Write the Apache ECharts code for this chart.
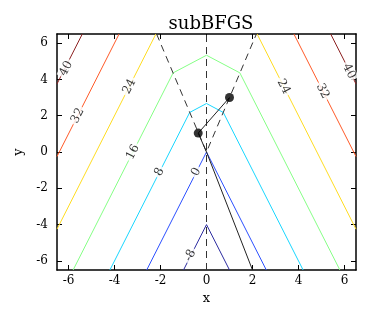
<!DOCTYPE html>
<html>
<head>
<meta charset="utf-8">
<script src="https://cdn.jsdelivr.net/npm/echarts@6/dist/echarts.min.js"></script>
<style>html,body{margin:0;padding:0;background:#fff}#c{width:374px;height:315px}</style>
</head>
<body>
<div id="c"></div>
<script>
// ---- data ----
const xTicks = [-6, -4, -2, 0, 2, 4, 6];
const yTicks = [-6, -4, -2, 0, 2, 4, 6];
const levels = [-8, 0, 8, 16, 24, 32, 40];
// contour branches (x, y) for each level
const contourM8 = [[[-1.0, -6.5], [0, -4.0], [1.0, -6.5]]];
const contour0  = [[[-2.6, -6.5], [0, 0], [2.6, -6.5]]];
const contour8  = [[[-4.2, -6.5], [-0.73, 2.18], [0, 2.67], [0.73, 2.18], [4.2, -6.5]]];
const contour16 = [[[-5.8, -6.5], [-1.45, 4.36], [0, 5.33], [1.45, 4.36], [5.8, -6.5]]];
const contour24 = [[[-6.5, -4.25], [-2.2, 6.5]], [[2.2, 6.5], [6.5, -4.25]]];
const contour32 = [[[-6.5, -0.25], [-3.8, 6.5]], [[3.8, 6.5], [6.5, -0.25]]];
const contour40 = [[[-6.5, 3.75], [-5.4, 6.5]], [[5.4, 6.5], [6.5, 3.75]]];
// kink lines (dashed)
const kinkV = [[-2.17, 6.5], [0, 0], [2.17, 6.5]];
const kinkAxis = [[0, -6.5], [0, 6.5]];
// optimizer path and iterates
const pathPts = [[1.0, 3.0], [-0.36, 1.04], [0, 0], [2.0, -6.5]];
const iterPts = [[1.0, 3.0], [-0.36, 1.04]];
// contour label anchors
const labelPts = [[-6.1, 4.6], [-5.6, 2.0], [-3.35, 3.6], [-3.2, 0], [-2.05, -1.1], [-0.45, -1.1], [-0.7, -5.7],
                  [3.35, 3.6], [5.05, 3.35], [6.2, 4.45]];
const labelTxt = ['40', '32', '24', '16', '8', '0', '-8', '24', '32', '40'];

// ---- styling ----
const contours = [contourM8, contour0, contour8, contour16, contour24, contour32, contour40];
const colors = ['#2c2ca0', '#2c50ff', '#18d6ff', '#86ff86', '#ffdc22', '#ff5a28', '#8c2020'];
const FONT = 'DejaVu Serif';

const series = [];
contours.forEach((branches, i) => {
  branches.forEach(br => {
    series.push({
      type: 'line', data: br, showSymbol: false, symbol: 'none', clip: true,
      lineStyle: { color: colors[i], width: 1 }, z: 2, silent: true, animation: false
    });
  });
});
series.push({ type: 'line', data: kinkV, symbol: 'none', clip: true, z: 3, animation: false,
  lineStyle: { color: '#333', width: 1, type: [7, 5] } });
series.push({ type: 'line', data: kinkAxis, symbol: 'none', clip: true, z: 3, animation: false,
  lineStyle: { color: '#333', width: 1, type: [7, 5] } });
series.push({ type: 'line', data: pathPts, symbol: 'none', clip: true, z: 4, animation: false,
  lineStyle: { color: '#222', width: 1 } });
series.push({ type: 'scatter', data: iterPts, symbol: 'circle', symbolSize: 9, z: 5, animation: false,
  itemStyle: { color: '#000' } });
series.push({
  type: 'scatter', z: 6, animation: false, symbolSize: 0,
  data: labelPts.map((p, i) => ({
    value: p,
    label: {
      show: true, position: 'inside', formatter: labelTxt[i],
      rotate: p[0] < 0 ? 63 : -63,
      fontFamily: FONT, fontSize: 12, color: '#000',
      backgroundColor: '#fff', padding: [0, 2]
    }
  }))
});

const axisCommon = {
  type: 'value', min: -6.5, max: 6.5,
  axisLine: { show: true, onZero: false, lineStyle: { color: '#000', width: 1.5 } },
  splitLine: { show: false }
};

const option = {
  backgroundColor: '#fff',
  animation: false,
  title: { text: 'subBFGS', left: 206, textAlign: 'center', top: 10,
    textStyle: { fontFamily: FONT, fontSize: 18, fontWeight: 'normal', color: '#000' } },
  grid: { left: 57, right: 18, top: 34, bottom: 45 },
  xAxis: [
    Object.assign({}, axisCommon, {
      position: 'bottom', name: 'x', nameLocation: 'middle', nameGap: 16,
      nameTextStyle: { fontFamily: FONT, fontSize: 13, color: '#000' },
      axisTick: { inside: true, length: 5, customValues: xTicks, lineStyle: { color: '#000' } },
      axisLabel: { customValues: xTicks, fontFamily: FONT, fontSize: 12, color: '#000', margin: 5 }
    }),
    Object.assign({}, axisCommon, {
      position: 'top',
      axisTick: { inside: true, length: 5, customValues: xTicks, lineStyle: { color: '#000' } },
      axisLabel: { show: false }
    })
  ],
  yAxis: [
    Object.assign({}, axisCommon, {
      position: 'left', name: 'y', nameLocation: 'middle', nameGap: 22,
      nameTextStyle: { fontFamily: FONT, fontSize: 13, color: '#000' },
      axisTick: { inside: true, length: 5, customValues: yTicks, lineStyle: { color: '#000' } },
      axisLabel: { customValues: yTicks, fontFamily: FONT, fontSize: 12, color: '#000', margin: 9 }
    }),
    Object.assign({}, axisCommon, {
      position: 'right',
      axisTick: { inside: true, length: 5, customValues: yTicks, lineStyle: { color: '#000' } },
      axisLabel: { show: false }
    })
  ],
  series: series
};

const chart = echarts.init(document.getElementById('c'), null, { renderer: 'canvas' });
chart.setOption(option);
</script>
</body>
</html>
